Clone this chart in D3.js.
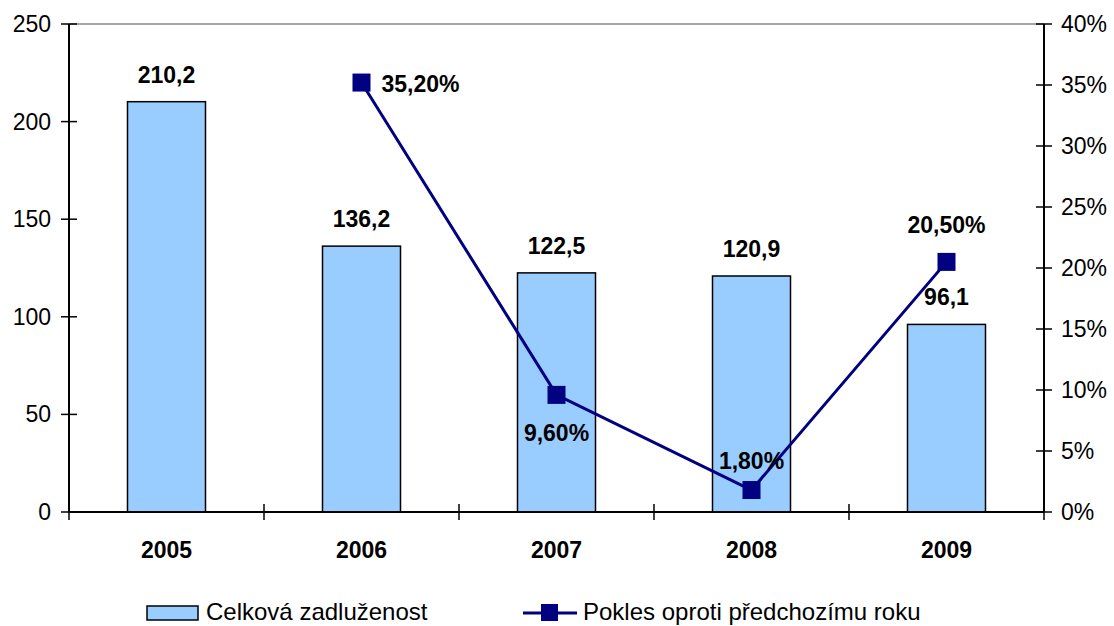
<!DOCTYPE html>
<html>
<head>
<meta charset="utf-8">
<script src="https://cdn.jsdelivr.net/npm/d3@7"></script>
<style>
    body { margin: 0; background: #fff; }
    text { font-family: 'Liberation Sans', Arial, sans-serif; }
</style>
</head>
<body>
<div id="chart"></div>
<script>
const years = ['2005', '2006', '2007', '2008', '2009'];
const debt = [210.2, 136.2, 122.5, 120.9, 96.1];
const decline = [null, 35.2, 9.6, 1.8, 20.5];
const debtLabels = ['210,2', '136,2', '122,5', '120,9', '96,1'];
const declineLabels = ['', '35,20%', '9,60%', '1,80%', '20,50%'];
const leftTicks = [0, 50, 100, 150, 200, 250];
const rightTicks = [0, 5, 10, 15, 20, 25, 30, 35, 40];

const width = 1114,
    height = 626;
const margin = { top: 24, right: 70, bottom: 114, left: 69 };

const svg = d3.select('#chart').append('svg').attr('width', width).attr('height', height);

const x = d3
    .scaleBand()
    .domain(years)
    .range([margin.left, width - margin.right])
    .paddingInner(0.6)
    .paddingOuter(0.3);
const xEdge = d3.scaleLinear().domain([0, years.length]).range([margin.left, width - margin.right]);
const yL = d3.scaleLinear().domain([0, 250]).range([height - margin.bottom, margin.top]);
const yR = d3.scaleLinear().domain([0, 40]).range([height - margin.bottom, margin.top]);

const x0 = margin.left,
    x1 = width - margin.right,
    yb = height - margin.bottom;

// top border line
svg.append('line').attr('x1', x0).attr('x2', x1).attr('y1', yL(250)).attr('y2', yL(250)).attr('stroke', '#888').attr('stroke-width', 1.5);

// bars
svg.append('g')
    .selectAll('rect')
    .data(debt)
    .enter()
    .append('rect')
    .attr('x', (d, i) => x(years[i]))
    .attr('y', (d) => yL(d))
    .attr('width', x.bandwidth())
    .attr('height', (d) => yb - yL(d))
    .attr('fill', '#99ccff')
    .attr('stroke', '#000')
    .attr('stroke-width', 1.5);

// left axis
const gl = svg.append('g');
gl.append('line').attr('x1', x0).attr('x2', x0).attr('y1', yL(250)).attr('y2', yb).attr('stroke', '#000').attr('stroke-width', 2);
gl.selectAll('line.t')
    .data(leftTicks)
    .enter()
    .append('line')
    .attr('class', 't')
    .attr('x1', x0 - 8)
    .attr('x2', x0 + 8)
    .attr('y1', (d) => yL(d))
    .attr('y2', (d) => yL(d))
    .attr('stroke', '#000')
    .attr('stroke-width', 1.5);
gl.selectAll('text')
    .data(leftTicks)
    .enter()
    .append('text')
    .attr('x', x0 - 18)
    .attr('y', (d) => yL(d) + 8)
    .attr('text-anchor', 'end')
    .style('font-size', '23px')
    .text((d) => d);

// right axis
const gr = svg.append('g');
gr.append('line').attr('x1', x1).attr('x2', x1).attr('y1', yR(40)).attr('y2', yb).attr('stroke', '#000').attr('stroke-width', 2);
gr.selectAll('line.t')
    .data(rightTicks)
    .enter()
    .append('line')
    .attr('class', 't')
    .attr('x1', x1 - 8)
    .attr('x2', x1 + 8)
    .attr('y1', (d) => yR(d))
    .attr('y2', (d) => yR(d))
    .attr('stroke', '#000')
    .attr('stroke-width', 1.5);
gr.selectAll('text')
    .data(rightTicks)
    .enter()
    .append('text')
    .attr('x', x1 + 17)
    .attr('y', (d) => yR(d) + 8)
    .style('font-size', '23px')
    .text((d) => d + '%');

// x axis
const gx = svg.append('g');
gx.append('line').attr('x1', x0).attr('x2', x1).attr('y1', yb).attr('y2', yb).attr('stroke', '#000').attr('stroke-width', 2);
gx.selectAll('line.t')
    .data(d3.range(years.length + 1))
    .enter()
    .append('line')
    .attr('class', 't')
    .attr('x1', (d) => xEdge(d))
    .attr('x2', (d) => xEdge(d))
    .attr('y1', yb - 8)
    .attr('y2', yb + 8)
    .attr('stroke', '#000')
    .attr('stroke-width', 1.5);
gx.selectAll('text')
    .data(years)
    .enter()
    .append('text')
    .attr('x', (d) => x(d) + x.bandwidth() / 2)
    .attr('y', yb + 46)
    .attr('text-anchor', 'middle')
    .style('font-size', '23px')
    .style('font-weight', 'bold')
    .text((d) => d);

// bar labels
svg.append('g')
    .selectAll('text')
    .data(debt)
    .enter()
    .append('text')
    .attr('x', (d, i) => x(years[i]) + x.bandwidth() / 2)
    .attr('y', (d) => yL(d) - 19)
    .attr('text-anchor', 'middle')
    .style('font-size', '23px')
    .style('font-weight', 'bold')
    .text((d, i) => debtLabels[i]);

// line
const pts = decline.map((d, i) => ({ v: d, year: years[i], i: i })).filter((d) => d.v !== null);
const cx = (d) => x(d.year) + x.bandwidth() / 2;
svg.append('path')
    .datum(pts)
    .attr('fill', 'none')
    .attr('stroke', '#000080')
    .attr('stroke-width', 3)
    .attr('d', d3.line().x(cx).y((d) => yR(d.v)));
svg.append('g')
    .selectAll('rect')
    .data(pts)
    .enter()
    .append('rect')
    .attr('x', (d) => cx(d) - 9)
    .attr('y', (d) => yR(d.v) - 9)
    .attr('width', 18)
    .attr('height', 18)
    .attr('fill', '#000080');

// line labels
const labelPos = {
    1: { dx: 20, dy: 9, anchor: 'start' },
    2: { dx: 0, dy: 46, anchor: 'middle' },
    3: { dx: 0, dy: -21, anchor: 'middle' },
    4: { dx: 0, dy: -29, anchor: 'middle' },
};
svg.append('g')
    .selectAll('text')
    .data(pts)
    .enter()
    .append('text')
    .attr('x', (d) => cx(d) + labelPos[d.i].dx)
    .attr('y', (d) => yR(d.v) + labelPos[d.i].dy)
    .attr('text-anchor', (d) => labelPos[d.i].anchor)
    .style('font-size', '23px')
    .style('font-weight', 'bold')
    .text((d) => declineLabels[d.i]);

// legend
const legend = svg.append('g');
legend.append('rect').attr('x', 147).attr('y', 606).attr('width', 51).attr('height', 14).attr('fill', '#99ccff').attr('stroke', '#000').attr('stroke-width', 1.5);
legend.append('text').attr('x', 206).attr('y', 620).style('font-size', '24px').text('Celková zadluženost');
legend.append('line').attr('x1', 523).attr('x2', 577).attr('y1', 613).attr('y2', 613).attr('stroke', '#000080').attr('stroke-width', 3);
legend.append('rect').attr('x', 541).attr('y', 604).attr('width', 17).attr('height', 17).attr('fill', '#000080');
legend.append('text').attr('x', 583).attr('y', 620).style('font-size', '24px').text('Pokles oproti předchozímu roku');
</script>
</body>
</html>
